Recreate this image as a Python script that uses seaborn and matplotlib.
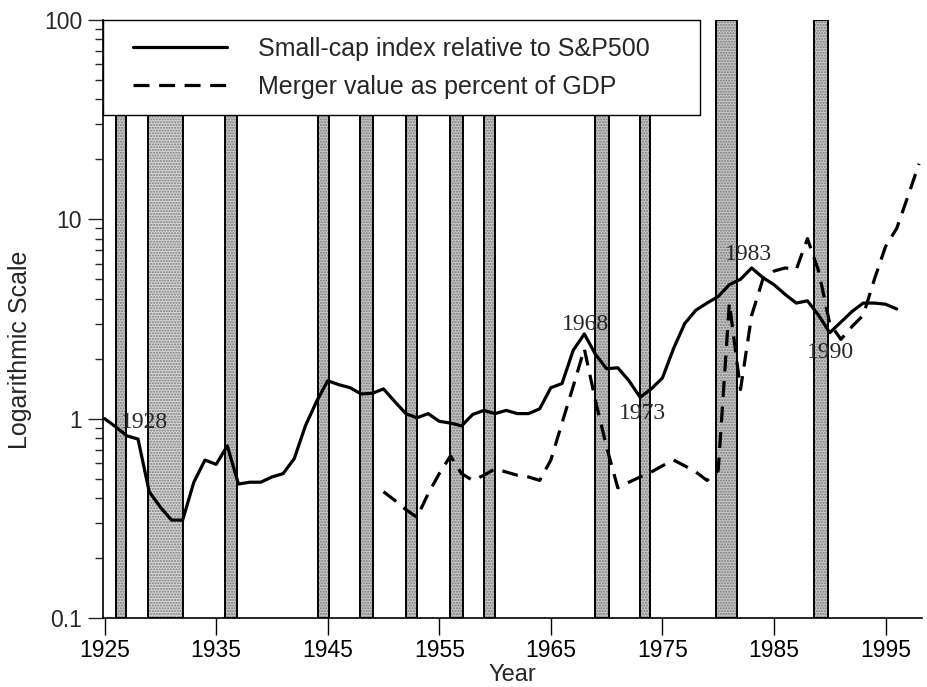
import matplotlib
matplotlib.use("Agg")
import matplotlib.pyplot as plt
import matplotlib.ticker as mticker
from matplotlib.patches import Rectangle
import seaborn as sns
import numpy as np
import pandas as pd

# ---------------- data ----------------
smallcap_years = list(range(1925, 1997))
smallcap_vals = [1.00, 0.91, 0.82, 0.79, 0.43, 0.36, 0.31, 0.31, 0.48, 0.62,
                 0.59, 0.73, 0.47, 0.48, 0.48, 0.51, 0.53, 0.63, 0.92, 1.22,
                 1.55, 1.48, 1.43, 1.33, 1.34, 1.41, 1.22, 1.06, 1.01, 1.06,
                 0.97, 0.95, 0.92, 1.05, 1.10, 1.06, 1.10, 1.06, 1.06, 1.12,
                 1.43, 1.50, 2.20, 2.66, 2.10, 1.78, 1.80, 1.55, 1.28, 1.41,
                 1.60, 2.25, 3.00, 3.50, 3.80, 4.10, 4.70, 5.00, 5.70, 5.10,
                 4.70, 4.20, 3.80, 3.90, 3.30, 2.70, 3.05, 3.45, 3.80, 3.80,
                 3.75, 3.55]

merger_years = list(range(1950, 1999))
merger_vals = [0.43, 0.39, 0.35, 0.32, 0.42, 0.53, 0.65, 0.53, 0.49, 0.52,
               0.56, 0.54, 0.52, 0.51, 0.49, 0.62, 0.95, 1.45, 2.24, 1.23,
               0.72, 0.45, 0.48, 0.51, 0.54, 0.58, 0.62, 0.58, 0.54, 0.49,
               0.55, 3.80, 1.40, 3.30, 5.00, 5.50, 5.70, 5.60, 8.00, 5.50,
               3.00, 2.50, 2.90, 3.30, 5.00, 7.30, 9.00, 13.0, 19.0]

recession_starts = [1926.0, 1928.9, 1935.8, 1944.1, 1947.9, 1952.0, 1956.0,
                    1959.0, 1969.0, 1973.0, 1979.8, 1988.6]
recession_ends = [1926.9, 1932.0, 1936.9, 1945.1, 1949.1, 1953.0, 1957.1,
                  1960.0, 1970.2, 1973.9, 1981.7, 1989.8]

annot_labels = ["1928", "1968", "1973", "1983", "1990"]
annot_x = [1928.6, 1968.1, 1973.2, 1982.7, 1990.05]
annot_y = [0.955, 2.98, 1.06, 6.68, 2.14]

label_small = "Small-cap index relative to S&P500"
label_merger = "Merger value as percent of GDP"

df_small = pd.DataFrame({"Year": smallcap_years, "val": smallcap_vals})
df_merger = pd.DataFrame({"Year": merger_years, "val": merger_vals})

# ---------------- style ----------------
sns.set_style("ticks")
plt.rcParams["font.family"] = ["Liberation Sans", "DejaVu Sans"]
plt.rcParams["hatch.linewidth"] = 1.0

fig = plt.figure(figsize=(9.27, 6.87), dpi=100)
ax = fig.add_axes([0.111, 0.1004, 0.884, 0.8706])

# recession bars
for i, (s, e) in enumerate(zip(recession_starts, recession_ends)):
    fc = "#d6d6d6" if i == 1 else "#c6c6c6"
    ax.axvspan(s, e, facecolor=fc, edgecolor="#7a7a7a", hatch="......",
               linewidth=0, zorder=1)
    ax.axvspan(s, e, facecolor="none", edgecolor="black", linewidth=1.4, zorder=1.5)

sns.lineplot(data=df_small, x="Year", y="val", ax=ax, color="black",
             linewidth=2.3, label=label_small, zorder=3)
sns.lineplot(data=df_merger, x="Year", y="val", ax=ax, color="black",
             linewidth=2.3, linestyle=(0, (5, 3)), label=label_merger, zorder=3)

ax.set_yscale("log")
ax.set_ylim(0.1, 100)
ax.set_xlim(1924.85, 1998.3)
ax.set_xticks(list(range(1925, 2000, 10)))
ax.yaxis.set_major_locator(mticker.FixedLocator([0.1, 1, 10, 100]))
ax.yaxis.set_major_formatter(mticker.FixedFormatter(["0.1", "1", "10", "100"]))
ax.yaxis.set_minor_locator(mticker.LogLocator(base=10, subs=np.arange(2, 10)))
ax.yaxis.set_minor_formatter(mticker.NullFormatter())

ax.tick_params(axis="x", which="major", direction="out", length=12, width=1,
               labelsize=16.5, pad=3, colors="black")
ax.tick_params(axis="y", which="major", direction="out", length=11, width=1,
               labelsize=16.5, pad=4)
ax.tick_params(axis="y", which="minor", direction="out", length=6, width=1)

for side in ["top", "right"]:
    ax.spines[side].set_visible(False)
for side in ["left", "bottom"]:
    ax.spines[side].set_color("black")
    ax.spines[side].set_linewidth(1.2)

ax.set_xlabel("Year", fontsize=17, va="bottom")
ax.set_ylabel("Logarithmic Scale", fontsize=18)
ax.xaxis.set_label_coords(0.5, -0.1135)
ax.yaxis.set_label_coords(-0.087, 0.448)

for t, x, y in zip(annot_labels, annot_x, annot_y):
    ax.text(x, y, t, ha="center", va="center", fontsize=17,
            family=["Liberation Serif", "DejaVu Serif"], zorder=4)

# legend box and legend
box = Rectangle((0.0, 0.841), 0.729, 0.159, transform=ax.transAxes,
                facecolor="white", edgecolor="black", linewidth=1.0,
                zorder=5, clip_on=False)
ax.add_patch(box)
leg = ax.legend(loc="upper left", bbox_to_anchor=(0.0366, 0.972),
                borderaxespad=0.0, borderpad=0.0, frameon=False, fontsize=18,
                handlelength=3.75, handletextpad=1.25, labelspacing=0.57)
leg.set_zorder(6)

fig.savefig("out.png", dpi=100)
